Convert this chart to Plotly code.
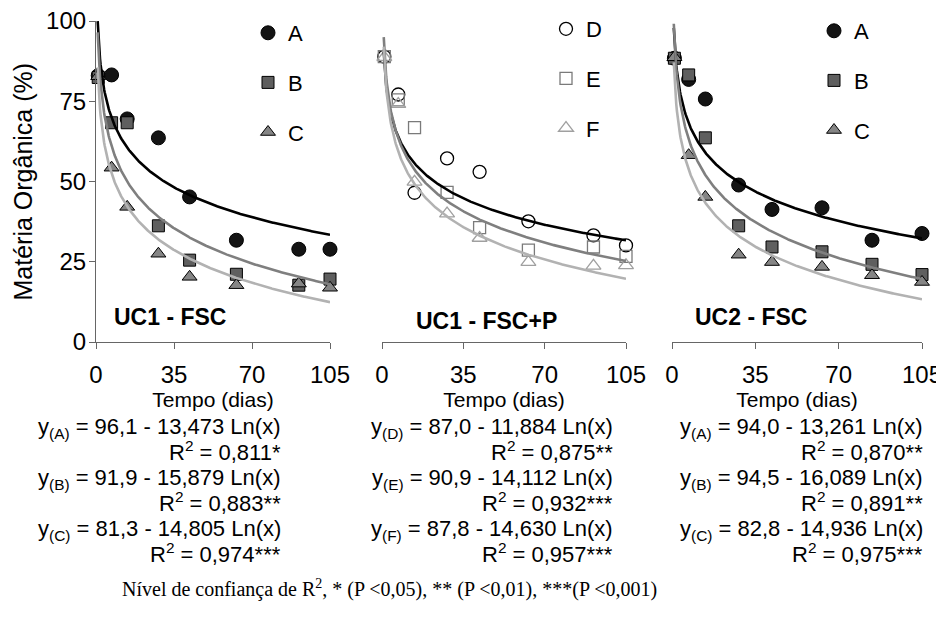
import numpy as np
import plotly.graph_objects as go

W, H = 944, 626

# ---------------- data ----------------
T12 = [1, 7, 14, 28, 42, 63, 91, 105]
T3 = [1, 7, 14, 28, 42, 63, 84, 105]

P1_A = [83.0, 83.2, 69.5, 63.6, 45.2, 31.7, 28.9, 28.9]
P1_B = [82.4, 68.3, 68.3, 36.2, 25.5, 21.1, 17.7, 19.6]
P1_C = [82.8, 54.3, 42.1, 27.5, 20.3, 17.7, 18.2, 16.9]

P2_D = [88.9, 77.1, 46.5, 57.2, 53.0, 37.6, 33.2, 30.1]
P2_E = [88.9, 75.4, 66.8, 46.6, 35.6, 28.6, 29.6, 26.7]
P2_F = [88.7, 74.1, 49.9, 40.0, 32.4, 24.9, 23.7, 23.9]

P3_A = [88.4, 81.8, 75.7, 48.9, 41.3, 41.8, 31.7, 33.8]
P3_B = [88.4, 83.2, 63.6, 36.2, 29.6, 28.1, 24.2, 21.0]
P3_C = [88.7, 58.2, 45.2, 27.2, 24.9, 23.4, 20.8, 18.7]

# fitted coefficients y = a - b ln(x)
FIT1 = {"A": (96.1, 13.473), "B": (91.9, 15.879), "C": (81.3, 14.805)}
FIT2 = {"D": (87.0, 11.884), "E": (90.9, 14.112), "F": (87.8, 14.630)}
FIT3 = {"A": (94.0, 13.261), "B": (94.5, 16.089), "C": (82.8, 14.936)}

EQ1 = [("A", "96,1 - 13,473", "0,811*"), ("B", "91,9 - 15,879", "0,883**"), ("C", "81,3 - 14,805", "0,974***")]
EQ2 = [("D", "87,0 - 11,884", "0,875**"), ("E", "90,9 - 14,112", "0,932***"), ("F", "87,8 - 14,630", "0,957***")]
EQ3 = [("A", "94,0 - 13,261", "0,870**"), ("B", "94,5 - 16,089", "0,891**"), ("C", "82,8 - 14,936", "0,975***")]

TITLES = ["UC1 - FSC", "UC1 - FSC+P", "UC2 - FSC"]
XTICKS = [0, 35, 70, 105]
YTICKS = [0, 25, 50, 75, 100]

# ---------------- geometry helpers (pixels -> paper) ----------------
ML, MR, MT, MB = 88, 30, 13, 292
PW, PH = W - ML - MR, H - MT - MB

def px(x):
    return (x - ML) / PW

def py(y):
    return (H - MB - y) / PH

XDOM = [(88, 322), (374, 618), (664, 914)]

filled = {
    "A": dict(symbol="circle", size=14, color="#141414", line=dict(color="#000000", width=1)),
    "B": dict(symbol="square", size=12, color="#5f5f5f", line=dict(color="#000000", width=1)),
    "C": dict(symbol="triangle-up", size=13, color="#858585", line=dict(color="#000000", width=1)),
}
openm = {
    "D": dict(symbol="circle-open", size=13, color="#000000", line=dict(width=1.3)),
    "E": dict(symbol="square-open", size=12, color="#7a7a7a", line=dict(width=1.3)),
    "F": dict(symbol="triangle-up-open", size=13, color="#a0a0a0", line=dict(width=1.3)),
}
linecol = ["#000000", "#7f7f7f", "#b2b2b2"]

fig = go.Figure()
xs = np.linspace(0.75, 105, 400)

panels = [
    (T12, [("A", P1_A), ("B", P1_B), ("C", P1_C)], FIT1, filled),
    (T12, [("D", P2_D), ("E", P2_E), ("F", P2_F)], FIT2, openm),
    (T3, [("A", P3_A), ("B", P3_B), ("C", P3_C)], FIT3, filled),
]

for i, (T, series, fits, mk) in enumerate(panels):
    xa = "x" if i == 0 else f"x{i+1}"
    ya = "y" if i == 0 else f"y{i+1}"
    lg = "legend" if i == 0 else f"legend{i+1}"
    for j, (name, vals) in enumerate(series):
        fig.add_trace(go.Scatter(x=T, y=vals, mode="markers", name=name,
                                 marker=mk[name], xaxis=xa, yaxis=ya,
                                 legend=lg, legendgroup=f"p{i}{name}",
                                 showlegend=True, cliponaxis=False))
    for j, (name, vals) in enumerate(series):
        a, b = fits[name]
        fig.add_trace(go.Scatter(x=xs, y=a - b * np.log(xs), mode="lines",
                                 line=dict(color=linecol[j], width=2.6),
                                 xaxis=xa, yaxis=ya, showlegend=False,
                                 hoverinfo="skip"))

SANS = "Liberation Sans, Arial, sans-serif"
tick_font = dict(family=SANS, size=24, color="#000")
title_font = dict(family=SANS, size=21, color="#000")
for i, (x0, x1) in enumerate(XDOM):
    sfx = "" if i == 0 else str(i + 1)
    fig.layout["xaxis" + sfx] = dict(
        domain=[px(x0), px(x1)], range=[0, 105], tickvals=XTICKS,
        showline=True, linecolor="#666666", linewidth=1.2, ticks="outside",
        ticklen=6, tickcolor="#666666", tickfont=tick_font, showgrid=False,
        zeroline=False, anchor="y" + sfx, fixedrange=True, automargin=False,
        ticklabelstandoff=5, ticklabeloverflow="allow",
        title=dict(text="Tempo (dias)", font=title_font, standoff=5))
    fig.layout["yaxis" + sfx] = dict(
        domain=[0, 1], range=[0, 100], tickvals=YTICKS,
        showline=(i == 0), linecolor="#666666", linewidth=1.2,
        ticks="outside" if i == 0 else "", ticklen=6, tickcolor="#666666",
        tickfont=tick_font, showticklabels=(i == 0), showgrid=False,
        zeroline=False, anchor="x" + sfx, fixedrange=True, automargin=False,
        ticklabelstandoff=-2, ticklabeloverflow="allow")

# legends (container coordinates)
LEG_X = [240, 538, 806]
LEG_Y = [4, 0, 2]
for i in range(3):
    key = "legend" if i == 0 else f"legend{i+1}"
    fig.layout[key] = dict(x=LEG_X[i] / W, y=1 - LEG_Y[i] / H, xref="container", yref="container",
                           xanchor="left", yanchor="top",
                           font=dict(family=SANS, size=22, color="#000"),
                           bgcolor="rgba(0,0,0,0)", tracegroupgap=18, itemwidth=30)

ann = []
# y-axis title
ann.append(dict(text="Matéria Orgânica (%)", x=px(14), y=0.5, xref="paper", yref="paper",
                showarrow=False, textangle=-90, xanchor="center", yanchor="middle",
                font=dict(family=SANS, size=25, color="#000")))

TITLE_POS = [(162, 309), (478, 313), (743, 309)]
for (cx, cy), t in zip(TITLE_POS, TITLES):
    ann.append(dict(text=f"<b>{t}</b>", x=px(cx), y=py(cy), xref="paper", yref="paper",
                    showarrow=False, xanchor="center", yanchor="middle",
                    font=dict(family=SANS, size=23, color="#000")))

eq_font = dict(family=SANS, size=22, color="#000")
EQ_R = [275, 607, 917]
ROW_Y = [(420, 443), (471, 494), (522, 545)]
for rx, eqs in zip(EQ_R, [EQ1, EQ2, EQ3]):
    for (yl, yr), (lab, body, r2) in zip(ROW_Y, eqs):
        ann.append(dict(text=f"y<sub>({lab})</sub> = {body} Ln(x)", x=px(rx), y=py(yl),
                        xref="paper", yref="paper", showarrow=False, xanchor="right",
                        yanchor="middle", font=eq_font))
        ann.append(dict(text=f"R<sup>2</sup> = {r2}", x=px(rx), y=py(yr),
                        xref="paper", yref="paper", showarrow=False, xanchor="right",
                        yanchor="middle", font=eq_font))

ann.append(dict(text="Nível de confiança de R<sup>2</sup>, * (P <0,05), ** (P <0,01), ***(P <0,001)",
                x=px(112), y=py(580), xref="paper", yref="paper", showarrow=False,
                xanchor="left", yanchor="middle",
                font=dict(family="Liberation Serif, Times New Roman, serif", size=20, color="#000")))

fig.update_layout(width=W, height=H, margin=dict(l=ML, r=MR, t=MT, b=MB, autoexpand=False),
                  paper_bgcolor="white", plot_bgcolor="white", annotations=ann,
                  showlegend=True)

fig.write_html("out.html")
